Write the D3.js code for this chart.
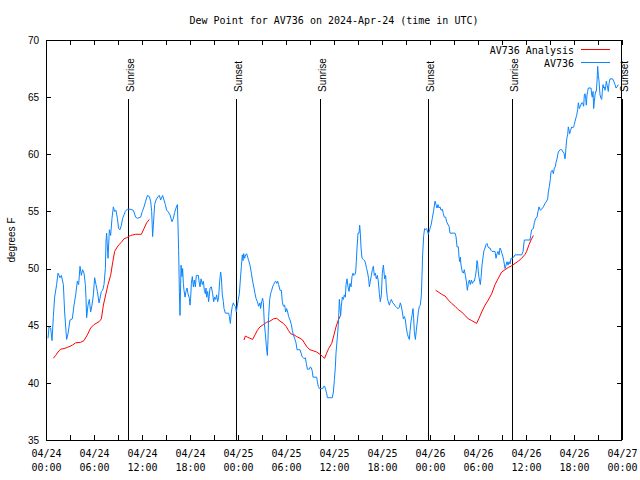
<!DOCTYPE html>
<html><head><meta charset="utf-8">
<script src="https://cdn.jsdelivr.net/npm/d3@7"></script>
<style>html,body{margin:0;padding:0;background:#fff;} svg{display:block;}</style>
</head><body><svg id="chart" width="640" height="480"></svg>
<script>
// ---------- data ----------
const chartTitle = "Dew Point for AV736 on 2024-Apr-24 (time in UTC)";
const yAxisLabel = "degrees F";
const startUTC = Date.UTC(2024, 3, 24, 0, 0);
const spanHours = 72;
const yTickValues = [35, 40, 45, 50, 55, 60, 65, 70];
const seriesNames = ["AV736 Analysis", "AV736"];
const seriesColors = ["#ff0000", "#0a84ff"];
const sunEventNames = ["Sunrise", "Sunset", "Sunrise", "Sunset", "Sunrise", "Sunset"];
const sunEventHours = [10.28, 23.78, 34.28, 47.78, 58.2, 71.95];

// [hours since 04/24 00:00 UTC, degrees F]; null = gap
const analysisSeries = [
 [0.92,42.15],[1.21,42.4],[1.5,42.7],[1.83,42.95],[2.25,43.0],[2.67,43.1],[3.0,43.2],[3.29,43.3],[3.71,43.5],[4.33,43.55],
 [4.75,43.7],[5.17,44.2],[5.58,44.8],[6.0,45.1],[6.63,45.35],[6.92,45.6],[7.17,46.8],[7.46,47.7],[7.75,48.6],[8.08,49.4],
 [8.33,50.5],[8.58,51.5],[8.83,51.8],[9.13,52.1],[9.42,52.3],[9.75,52.6],[10.08,52.7],[10.58,52.9],[11.21,53.0],[11.92,53.0],
 [12.25,53.5],[12.58,54.0],[12.92,54.3],
 null,
 [24.75,43.75],[24.92,44.1],[25.17,44.0],[25.5,43.9],[25.83,43.8],[26.13,44.2],[26.42,44.6],[26.75,44.9],[27.17,45.1],[27.58,45.3],
 [28.0,45.4],[28.42,45.6],[28.83,45.65],[29.25,45.4],[29.67,45.2],[30.0,44.95],[30.29,44.6],[30.58,44.3],[31.0,44.2],[31.33,44.05],
 [31.75,43.9],[32.08,43.75],[32.38,43.4],[32.67,43.1],[33.0,42.9],[33.42,42.8],[33.83,42.7],[34.25,42.5],[34.58,42.3],[34.83,42.15],
 [35.08,42.6],[35.33,43.0],[35.71,43.45],[36.0,44.2],[36.25,44.9],[36.54,45.5],[36.83,45.9],
 null,
 [48.71,48.1],[49.04,47.95],[49.46,47.75],[49.88,47.6],[50.29,47.25],[50.71,46.95],[51.13,46.7],[51.54,46.4],[51.96,46.2],[52.38,45.9],
 [52.79,45.6],[53.21,45.45],[53.83,45.2],[54.13,45.65],[54.46,46.2],[54.88,46.8],[55.29,47.25],[55.71,47.8],[56.13,48.6],[56.54,49.15],
 [56.96,49.7],[57.38,49.9],[57.79,50.1],[58.21,50.25],[58.63,50.45],[59.04,50.65],[59.46,50.9],[59.88,51.25],[60.08,51.5],[60.38,52.1],
 [60.63,52.5],[60.92,52.9]
];

const observedSeries = [
 [0.25,43.9],[0.38,44.9],[0.58,44.8],[0.75,43.7],[0.92,45.8],[1.08,47.5],[1.33,48.6],[1.5,49.6],[1.75,49.2],[1.92,49.4],
 [2.17,48.6],[2.33,46.2],[2.5,44.5],[2.58,43.8],[2.75,44.3],[3.0,45.5],[3.29,45.6],[3.5,46.8],[3.71,47.7],[3.92,48.9],
 [4.08,48.6],[4.25,50.2],[4.42,49.4],[4.58,49.9],[4.75,49.6],[4.92,48.6],[5.0,47.4],[5.08,45.7],[5.25,46.8],[5.42,47.3],
 [5.58,46.2],[5.75,46.8],[5.92,47.7],[6.08,49.2],[6.25,48.6],[6.42,48.0],[6.63,47.0],[6.75,47.4],[6.92,48.0],[7.08,48.1],
 [7.25,48.6],[7.42,50.0],[7.5,52.4],[7.58,53.1],[7.75,50.9],[7.92,53.4],[8.08,52.9],[8.25,54.4],[8.42,55.4],[8.58,55.0],
 [8.75,55.1],[8.92,54.4],[9.08,53.5],[9.25,53.4],[9.42,53.8],[9.58,54.4],[9.75,54.7],[9.92,55.0],[10.17,55.2],[10.5,55.2],
 [10.92,55.1],[11.21,54.5],[11.42,54.4],[11.83,54.5],[12.04,55.0],[12.25,55.4],[12.46,55.9],[12.67,56.4],[12.92,56.3],[13.08,55.9],
 [13.21,55.0],[13.33,52.8],[13.42,53.8],[13.58,55.6],[13.75,56.0],[14.0,56.3],[14.17,56.4],[14.33,56.0],[14.58,56.4],[14.75,56.0],
 [14.92,55.6],[15.08,55.1],[15.25,55.0],[15.5,54.7],[15.75,54.1],[15.92,54.4],[16.08,54.9],[16.25,55.3],[16.42,55.6],[16.5,53.8],
 [16.58,51.6],[16.67,48.0],[16.75,45.9],[16.88,50.3],[17.0,49.3],[17.08,50.0],[17.17,48.7],[17.25,48.1],[17.38,47.5],[17.5,48.0],
 [17.63,48.3],[17.75,47.8],[17.92,47.4],[18.0,46.8],[18.08,47.4],[18.17,48.7],[18.29,49.3],[18.42,48.4],[18.54,49.0],[18.67,48.4],
 [18.79,49.4],[19.04,49.4],[19.13,48.9],[19.25,48.4],[19.38,49.1],[19.54,48.6],[19.67,48.9],[19.79,48.1],[19.92,47.8],[20.0,48.3],
 [20.08,47.5],[20.21,48.0],[20.33,47.1],[20.5,48.3],[20.67,48.4],[20.83,47.8],[20.96,47.1],[21.08,47.5],[21.21,47.3],[21.33,47.7],
 [21.46,47.1],[21.58,47.5],[21.71,48.9],[21.83,49.7],[21.92,49.2],[22.04,47.7],[22.17,47.1],[22.25,46.5],[22.42,46.1],[22.83,46.1],
 [22.92,45.8],[23.04,45.2],[23.17,46.2],[23.29,46.7],[23.42,47.0],[23.54,46.8],[23.67,46.7],[23.79,46.2],[23.92,46.8],[24.04,47.3],
 [24.17,47.8],[24.29,49.0],[24.42,50.2],[24.54,51.2],[24.63,50.7],[24.71,51.3],[24.83,50.9],[24.96,51.2],[25.08,51.3],[25.21,51.0],
 [25.33,50.7],[25.5,50.3],[25.67,49.6],[25.83,48.9],[26.0,48.3],[26.13,47.8],[26.25,47.4],[26.42,47.1],[26.58,46.7],[26.75,47.0],
 [26.83,46.5],[26.96,47.1],[27.08,47.4],[27.17,47.0],[27.29,45.2],[27.42,44.3],[27.54,43.2],[27.67,42.4],[27.75,43.8],[27.83,45.8],
 [27.96,47.3],[28.08,47.8],[28.21,48.1],[28.33,48.4],[28.46,48.6],[28.58,48.8],[28.71,48.9],[28.83,48.7],[28.96,48.9],[29.08,48.6],
 [29.25,48.1],[29.42,48.1],[29.54,47.1],[29.67,46.7],[29.83,46.8],[29.96,46.2],[30.08,46.5],[30.21,46.2],[30.33,45.8],[30.5,45.5],
 [30.67,45.1],[30.79,44.6],[30.92,44.2],[31.08,43.9],[31.25,43.5],[31.38,42.9],[31.75,42.9],[31.88,42.6],[32.0,42.3],[32.17,42.2],
 [32.29,42.1],[32.42,42.2],[32.54,41.7],[32.67,41.2],[32.92,41.2],[33.04,41.4],[33.17,41.3],[33.29,41.0],[33.38,40.5],[33.83,40.5],
 [33.92,40.1],[34.04,39.7],[34.17,39.5],[34.58,39.5],[34.71,39.7],[34.83,39.7],[34.96,39.4],[35.08,39.1],[35.17,38.7],[35.79,38.7],
 [35.92,39.2],[36.04,40.2],[36.17,41.4],[36.25,42.6],[36.42,44.0],[36.54,45.1],[36.6,46.1],[36.67,47.3],[36.83,45.9],[36.92,46.7],
 [37.04,47.5],[37.17,47.3],[37.29,47.7],[37.42,47.5],[37.5,48.6],[37.63,49.1],[37.75,48.4],[37.88,48.0],[38.0,48.7],[38.13,48.4],
 [38.25,49.3],[38.38,49.6],[38.5,49.4],[38.63,49.5],[38.71,49.7],[38.79,50.6],[38.88,51.8],[39.0,53.1],[39.13,53.1],[39.21,53.8],
 [39.29,53.1],[39.38,51.8],[39.5,50.9],[39.67,50.8],[39.83,50.7],[39.96,50.4],[40.08,50.0],[40.21,49.6],[40.33,49.1],[40.42,48.4],
 [40.54,48.9],[40.67,49.4],[40.79,49.9],[40.92,50.2],[41.04,49.4],[41.17,49.6],[41.29,49.1],[41.42,49.4],[41.54,48.9],[41.67,47.8],
 [41.79,47.1],[41.92,47.7],[42.04,49.6],[42.17,50.3],[42.25,49.7],[42.33,49.1],[42.46,49.4],[42.54,48.3],[42.67,47.4],[42.79,47.1],
 [42.92,46.8],[43.04,47.1],[43.17,47.3],[43.33,47.0],[43.5,46.9],[43.67,46.7],[43.83,46.6],[44.0,46.5],[44.17,46.6],[44.29,47.0],
 [44.42,46.7],[44.54,46.2],[44.67,45.6],[44.79,45.8],[44.92,45.5],[45.04,44.8],[45.17,44.3],[45.29,44.0],[45.42,43.8],[45.5,44.5],
 [45.63,45.4],[45.75,45.9],[45.88,46.5],[45.96,45.6],[46.04,44.5],[46.17,43.8],[46.29,44.6],[46.42,45.4],[46.54,46.2],[46.67,46.7],
 [46.79,46.8],[46.92,47.7],[47.0,49.4],[47.08,51.2],[47.21,52.9],[47.33,53.5],[47.46,53.4],[47.58,53.5],[47.71,53.2],[47.79,53.0],
 [47.96,53.4],[48.13,53.8],[48.29,54.4],[48.46,55.1],[48.63,55.9],[48.75,55.6],[48.88,55.3],[49.0,55.6],[49.13,55.3],[49.25,55.4],
 [49.38,55.1],[49.54,55.2],[49.67,54.8],[49.79,54.5],[49.96,54.5],[50.08,54.1],[50.21,53.9],[50.38,53.7],[50.5,53.1],[51.13,53.1],
 [51.25,52.8],[51.38,51.9],[51.54,51.9],[51.63,51.0],[51.71,50.6],[51.79,51.0],[51.88,50.3],[52.04,49.7],[52.17,49.6],[52.29,49.9],
 [52.42,49.4],[52.54,48.9],[52.67,48.1],[52.79,48.7],[52.92,49.0],[53.04,48.6],[53.17,49.0],[53.29,48.7],[53.42,48.9],[53.54,48.9],
 [53.67,49.3],[53.79,49.9],[53.88,50.7],[53.96,50.4],[54.04,49.7],[54.13,49.2],[54.21,48.9],[54.29,48.6],[54.38,49.2],[54.5,50.3],
 [54.63,51.0],[54.75,51.6],[54.88,51.8],[55.0,52.1],[55.13,52.2],[55.25,51.9],[55.38,51.8],[55.5,51.8],[55.63,51.6],[55.75,51.5],
 [56.13,51.5],[56.25,50.9],[56.38,51.3],[56.5,51.5],[56.63,51.2],[56.75,51.8],[56.88,51.6],[57.0,51.3],[57.13,51.0],[57.21,50.7],
 [57.29,50.4],[57.38,50.0],[57.5,50.3],[57.63,50.6],[57.75,50.3],[57.88,50.6],[58.0,50.4],[58.13,50.9],[58.29,50.9],[58.46,51.0],
 [58.63,51.2],[59.46,51.2],[59.63,51.5],[59.79,52.5],[60.5,52.5],[60.58,52.9],[60.71,53.4],[60.92,53.5],[61.04,54.0],[61.21,54.4],
 [61.38,54.5],[61.5,55.0],[61.63,55.4],[61.79,55.1],[61.96,55.2],[62.17,55.4],[62.38,55.7],[62.58,55.9],[62.71,56.1],[62.79,56.7],
 [62.92,57.2],[63.04,57.8],[63.13,58.5],[63.29,58.6],[63.42,58.3],[63.54,58.8],[63.67,58.9],[63.75,59.3],[63.88,59.6],[64.0,60.1],
 [64.13,60.3],[64.29,60.4],[64.46,60.4],[64.63,60.2],[64.75,60.1],[64.88,59.6],[64.96,60.2],[65.04,61.0],[65.13,61.5],[65.21,61.7],
 [65.29,62.4],[65.46,61.8],[65.58,62.1],[65.71,62.4],[65.83,62.3],[65.96,62.4],[66.04,62.6],[66.13,62.9],[66.21,63.1],[66.33,63.4],
 [66.46,63.9],[66.54,64.5],[66.67,64.0],[66.79,64.2],[66.96,64.5],[67.08,64.5],[67.21,64.2],[67.29,65.2],[67.38,65.3],[67.46,64.9],
 [67.54,64.3],[67.63,65.2],[67.71,65.5],[67.79,65.8],[68.13,65.8],[68.21,65.2],[68.29,65.0],[68.38,65.5],[68.46,64.0],[68.54,64.6],
 [68.63,65.2],[68.71,65.5],[68.79,65.5],[68.88,66.4],[68.96,67.7],[69.04,66.9],[69.13,66.4],[69.25,65.2],[69.38,64.9],[69.46,64.8],
 [69.54,65.5],[69.63,66.1],[69.71,65.8],[69.79,65.9],[69.88,65.6],[69.96,65.9],[70.04,66.4],[70.13,66.1],[70.21,65.8],[70.29,65.5],
 [70.38,66.2],[70.5,66.6],[70.83,66.6],[70.96,66.4],[71.13,66.1],[71.25,65.8],[71.38,65.9],[71.54,66.1]
];

// ---------- drawing ----------
const W = 640, H = 480;
const plot = {left: 46, right: 622, top: 40, bottom: 440};
const MONO = "'DejaVu Sans Mono', monospace";
const SANS = "'Liberation Sans', Arial, sans-serif";

const toDate = h => new Date(startUTC + h * 3600e3);
const x = d3.scaleUtc().domain([toDate(0), toDate(spanHours)]).range([plot.left, plot.right]);
const y = d3.scaleLinear().domain([35, 70]).range([plot.bottom, plot.top]);

const svg = d3.select("#chart");
svg.append("rect").attr("width", W).attr("height", H).attr("fill", "#fff");

// title
svg.append("text").attr("x", (plot.left + plot.right) / 2).attr("y", 24)
  .attr("text-anchor", "middle").attr("font-family", MONO).attr("font-size", 10)
  .attr("fill", "#000").text(chartTitle);

// y label
svg.append("text").attr("transform", `translate(15,240) rotate(-90)`)
  .attr("text-anchor", "middle").attr("font-family", SANS).attr("font-size", 10)
  .attr("fill", "#000").text(yAxisLabel);

// axes
const tick3h = d3.utcHour.every(3);
const gB = svg.append("g").attr("transform", `translate(0,${plot.bottom})`)
  .call(d3.axisBottom(x).ticks(tick3h).tickSizeInner(-5).tickSizeOuter(0).tickPadding(0));
gB.select(".domain").remove();
gB.selectAll(".tick text").each(function(d) {
  const t = d3.select(this);
  t.text(null).attr("y", null).attr("dy", null)
   .attr("font-family", MONO).attr("font-size", 10).attr("fill", "#000");
  if (d.getUTCHours() % 6 !== 0) return;
  t.append("tspan").attr("x", 0).attr("y", 17).text(d3.utcFormat("%m/%d")(d));
  t.append("tspan").attr("x", 0).attr("y", 31).text(d3.utcFormat("%H:%M")(d));
});

const gT = svg.append("g").attr("transform", `translate(0,${plot.top})`)
  .call(d3.axisTop(x).ticks(tick3h).tickSizeInner(-5).tickSizeOuter(0).tickFormat(() => ""));
gT.select(".domain").remove();

const gL = svg.append("g").attr("transform", `translate(${plot.left},0)`)
  .call(d3.axisLeft(y).tickValues(yTickValues).tickSizeInner(-5).tickSizeOuter(0).tickPadding(7).tickFormat(d3.format("d")));
gL.select(".domain").remove();
gL.selectAll(".tick text").attr("font-family", SANS).attr("font-size", 10).attr("fill", "#000");

const gR = svg.append("g").attr("transform", `translate(${plot.right},0)`)
  .call(d3.axisRight(y).tickValues(yTickValues).tickSizeInner(-5).tickSizeOuter(0).tickFormat(() => ""));
gR.select(".domain").remove();

svg.selectAll(".tick line").attr("stroke", "#000").attr("shape-rendering", "crispEdges");

// frame
svg.append("rect").attr("x", plot.left + 0.5).attr("y", plot.top + 0.5)
  .attr("width", plot.right - plot.left - 1).attr("height", plot.bottom - plot.top)
  .attr("fill", "none").attr("stroke", "#000").attr("stroke-width", 1)
  .attr("shape-rendering", "crispEdges");

// sunrise / sunset lines
const sunData = sunEventHours.map((h, i) => ({h, name: sunEventNames[i]}));
const sunG = svg.append("g");
sunG.selectAll("line").data(sunData).join("line")
  .attr("x1", d => Math.round(x(toDate(d.h))) + 0.5).attr("x2", d => Math.round(x(toDate(d.h))) + 0.5)
  .attr("y1", 99).attr("y2", plot.bottom)
  .attr("stroke", "#000").attr("stroke-width", 1).attr("shape-rendering", "crispEdges");
sunG.selectAll("text").data(sunData).join("text")
  .attr("transform", d => `translate(${Math.round(x(toDate(d.h))) + 6},92) rotate(-90)`)
  .attr("font-family", SANS).attr("font-size", 10).attr("fill", "#000").text(d => d.name);

// series
const line = d3.line()
  .defined(d => d != null)
  .x(d => x(toDate(d[0])))
  .y(d => y(d[1]));

svg.append("path").datum(analysisSeries).attr("d", line)
  .attr("fill", "none").attr("stroke", seriesColors[0]).attr("stroke-width", 1);
svg.append("path").datum(observedSeries).attr("d", line)
  .attr("fill", "none").attr("stroke", seriesColors[1]).attr("stroke-width", 1);

// legend
const legend = svg.append("g");
seriesNames.forEach((name, i) => {
  const by = 54 + i * 13;
  legend.append("text").attr("x", 574).attr("y", by).attr("text-anchor", "end")
    .attr("font-family", MONO).attr("font-size", 10).attr("fill", "#000").text(name);
  legend.append("line").attr("x1", 581).attr("x2", 610).attr("y1", by - 4.5).attr("y2", by - 4.5)
    .attr("stroke", seriesColors[i]).attr("stroke-width", 1).attr("shape-rendering", "crispEdges");
});
</script>
</body></html>
